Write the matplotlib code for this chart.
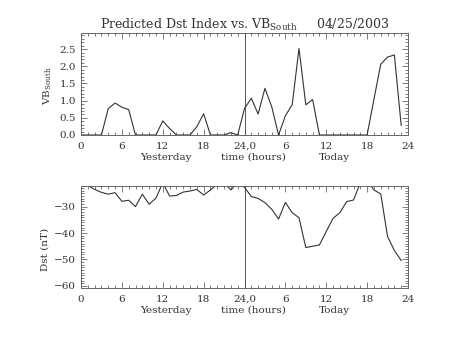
import numpy as np
import matplotlib
matplotlib.use('Agg')
import matplotlib.pyplot as plt
from matplotlib.ticker import MultipleLocator, FixedLocator, FormatStrFormatter

plt.rcParams['font.family'] = 'DejaVu Serif'
plt.rcParams['mathtext.fontset'] = 'dejavuserif'

# hours since start of yesterday (0..47)
hours = np.arange(48)

# VB south
vb_south = [0, 0, 0, 0, 0.77, 0.93, 0.81, 0.74, 0, 0, 0, 0,
            0.41, 0.19, 0, 0, 0, 0.24, 0.62, 0, 0, 0, 0.07, 0,
            0.77, 1.07, 0.61, 1.36, 0.82, 0, 0.56, 0.88, 2.52, 0.88, 1.03, 0,
            0, 0, 0, 0, 0, 0, 0, 1.04, 2.06, 2.27, 2.33, 0.28]

# predicted Dst (nT)
dst = [-21.5, -22.0, -23.5, -24.6, -25.3, -24.7, -28.0, -27.6, -30.0, -25.3, -29.1, -26.8,
       -21.0, -26.0, -25.8, -24.5, -24.1, -23.5, -25.6, -23.7, -21.5, -21.0, -23.7, -21.0,
       -22.7, -26.2, -26.9, -28.5, -31.0, -34.7, -28.4, -32.3, -34.2, -45.5, -45.0, -44.5,
       -39.4, -34.4, -32.3, -28.1, -27.5, -21.0, -20.0, -23.7, -25.2, -41.3, -46.6, -50.4]

xticks = [0, 6, 12, 18, 24, 30, 36, 42, 48]
xticklabels = ['0', '6', '12', '18', '24,0', '6', '12', '18', '24']

ink = '#333333'
fs = 7.5

fig = plt.figure(figsize=(4.53, 3.40), dpi=100)
ax1 = fig.add_axes([81/453, 1-135/340, 327/453, 102/340])
ax2 = fig.add_axes([81/453, 1-288/340, 327/453, 102/340])


def style(ax, row_y):
    ax.set_xlim(0, 48)
    ax.xaxis.set_major_locator(FixedLocator(xticks))
    ax.set_xticklabels(xticklabels)
    ax.xaxis.set_minor_locator(MultipleLocator(1))
    ax.tick_params(which='both', direction='in', top=True, right=True,
                   colors='#666666', labelcolor=ink, labelsize=fs, width=0.6)
    ax.tick_params(which='major', length=4)
    ax.tick_params(which='minor', length=2)
    ax.tick_params(axis='x', pad=5)
    for s in ax.spines.values():
        s.set_color('#666666')
        s.set_linewidth(0.7)
    ax.axvline(24, color='#555555', lw=0.7)
    # labels under the time axis (baseline aligned)
    for x, t in [(166, 'Yesterday'), (253, 'time (hours)'), (334, 'Today')]:
        fig.text(x/453, 1-row_y/340, t, ha='center', va='baseline', fontsize=fs, color=ink)


style(ax1, 160)
ax1.plot(hours, vb_south, color=ink, lw=0.8)
ax1.set_ylim(0, 2.97)
ax1.yaxis.set_major_locator(MultipleLocator(0.5))
ax1.yaxis.set_minor_locator(MultipleLocator(0.1))
ax1.yaxis.set_major_formatter(FormatStrFormatter('%.1f'))
ax1.set_ylabel(r'VB$_{\rm South}$', fontsize=fs, color=ink)
ax1.yaxis.set_label_coords((54-81)/327, 0.48)
ax1.set_title(r'Predicted Dst Index vs. VB$_{\rm South}$     04/25/2003',
              fontsize=9, color=ink, pad=1)

style(ax2, 313)
ax2.plot(hours, dst, color=ink, lw=0.8)
ax2.set_ylim(-60.8, -22.2)
ax2.yaxis.set_major_locator(MultipleLocator(10))
ax2.yaxis.set_minor_locator(MultipleLocator(1))
ax2.set_ylabel('Dst (nT)', fontsize=fs, color=ink)
ax2.yaxis.set_label_coords((50-81)/327, 0.38)

fig.savefig('out.png', dpi=100)
